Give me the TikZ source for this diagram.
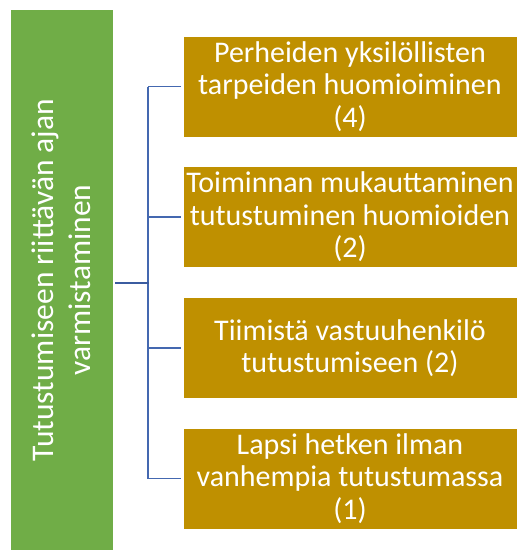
\documentclass[tikz,border=0pt]{standalone}
\usepackage{fontspec}
\setmainfont{Carlito}
\definecolor{gr}{HTML}{70AD47}
\definecolor{gold}{HTML}{BF9000}
\definecolor{ln}{HTML}{4468B0}
\definecolor{lnd}{HTML}{3B5CA0}
\tikzset{
  item/.style={fill=gold, draw=white, line width=0.6pt, minimum width=334pt, minimum height=101pt,
    text=white, align=center, font=\fontsize{30}{32.5}\selectfont, inner sep=0pt},
  root/.style={fill=gr, draw=white, line width=0.6pt, minimum width=103pt, minimum height=541pt,
    inner sep=0pt},
  roottext/.style={text=white, align=center, font=\fontsize{31.5}{37}\selectfont, rotate=90},
  mainline/.style={lnd, line width=2.6pt},
  branch/.style={ln, line width=1.8pt}
}
\begin{document}
\begin{tikzpicture}[x=1pt, y=-1pt]
\useasboundingbox (0,0) rectangle (518,550);
\node[root] (g) at (61.5,280) {};
\node[roottext] (gt) at (61.5,280) {Tutustumiseen riittävän ajan\\varmistaminen};
\node[item] (b1) at (350,86.5) {Perheiden yksilöllisten\\tarpeiden huomioiminen\\(4)};
\node[item] (b2) at (350,217) {Toiminnan mukauttaminen\\tutustuminen huomioiden\\(2)};
\node[item] (b3) at (350,348) {Tiimistä vastuuhenkilö\\tutustumiseen (2)};
\node[item] (b4) at (350,478.5) {Lapsi hetken ilman\\vanhempia tutustumassa\\(1)};
\coordinate (j) at (148,283);
\draw[branch] (j |- b1.west) -- (j |- b4.west);
\draw[branch] (j |- b1.west) -- ([xshift=-2pt]b1.west);
\draw[branch] (j |- b2.west) -- ([xshift=-2pt]b2.west);
\draw[branch] (j |- b3.west) -- ([xshift=-2pt]b3.west);
\draw[branch] (j |- b4.west) -- ([xshift=-2pt]b4.west);
\draw[mainline] ([xshift=2pt]g.east |- j) -- ([xshift=0.9pt]j);
\end{tikzpicture}
\end{document}
